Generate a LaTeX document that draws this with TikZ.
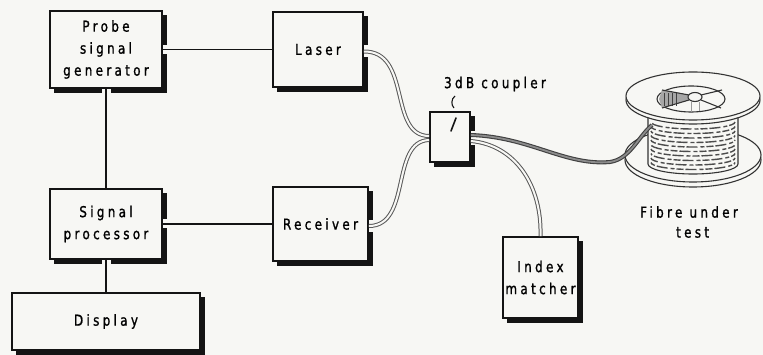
\documentclass[tikz,border=0pt]{standalone}
\usepackage{fontspec}
\setmainfont{DejaVu Sans}[FakeStretch=0.8, LetterSpace=22, FakeBold=1.2]
\usetikzlibrary{calc}
\definecolor{paper}{RGB}{247,247,244}
\definecolor{ink}{RGB}{20,20,20}
\pgfdeclarelayer{bg}
\pgfdeclarelayer{back}
\pgfdeclarelayer{mid}
\pgfsetlayers{bg,back,mid,main}

\begin{document}
\begin{tikzpicture}[x=1pt,y=-1pt,
  blk/.style={draw=ink, line width=1.7pt, fill=paper, rectangle, inner sep=0pt,
    align=center, font=\fontsize{15}{22}\selectfont},
  wire/.style={draw=ink, line width=1.6pt},
  halo/.style={draw=paper, line width=9pt},
  fibre/.style={draw=black!65, line width=1pt, double=paper, double distance=2pt},
  darkfibre/.style={draw=black!75, line width=1.1pt, double=black!45, double distance=1.8pt},
  spool/.style={draw=black!80, line width=1.1pt},
  lbl/.style={font=\fontsize{15}{20}\selectfont, inner sep=0pt, align=left}
]
\useasboundingbox (0,0) rectangle (763,355);
\begin{pgfonlayer}{bg}
  \fill[paper] (0,0) rectangle (763,355);
\end{pgfonlayer}

% ---- blocks ----
\node[blk, minimum width=112pt, minimum height=77pt] (psg) at (106,49.5) {Probe\\signal\\generator};
\node[blk, minimum width=90pt, minimum height=75pt] (laser) at (318,49.5) {Laser};
\node[blk, minimum width=112pt, minimum height=70pt] (sp) at (106,224) {Signal\\processor};
\node[blk, minimum width=95pt, minimum height=74pt] (rx) at (320.5,224) {Receiver};
\node[blk, minimum width=188pt, minimum height=57pt] (disp) at (106,321.5) {Display};
\node[blk, minimum width=40pt, minimum height=50pt] (coupler) at (450,137) {};
\node[blk, minimum width=75pt, minimum height=81pt] (idx) at (540.5,277.5) {Index\\matcher};

% ---- labels ----
\node[lbl] (cplabel) at (495,84) {3dB coupler};
\node[lbl] (fibrelabel) at (689,222) {Fibre under\\\hspace*{2.4em}test};

% ---- drop shadows ----
\begin{pgfonlayer}{back}
  \foreach \n in {psg,laser,sp,rx,disp,coupler,idx}
    \fill[ink] ($(\n.north west)+(4.5,4.5)$) rectangle ($(\n.south east)+(4.5,4.5)$);
\end{pgfonlayer}

% ---- electrical connections ----
\begin{pgfonlayer}{mid}
  \draw[halo] (psg) -- (laser);
  \draw[halo] (psg) -- (sp);
  \draw[halo] (sp) -- (rx);
  \draw[halo] (sp) -- (disp);
\end{pgfonlayer}
\draw[wire] (psg.east) -- (laser.west);
\draw[wire] (psg.south) -- (sp.north);
\draw[wire] (sp.east) -- (rx.west);
\draw[wire] (sp.south) -- (disp.north);

% ---- spool of fibre ----
\coordinate (spin) at (652,125);
% lower flange
\filldraw[spool, fill=paper] (693,160) ellipse [x radius=68, y radius=27];
\filldraw[spool, fill=paper] (693,155) ellipse [x radius=68, y radius=27];
% drum with windings
\filldraw[spool, fill=paper] (648,112) -- (648,164)
  arc[start angle=180, end angle=0, x radius=45, y radius=10] -- (738,112) -- cycle;
\foreach \yy [count=\i] in {122,126.5,131,135.5,140,144.5,149,153.5,158,162.5} {
  \pgfmathsetmacro{\ph}{mod(\i*7,17)}
  \draw[black!70, line width=1.4pt, dash pattern=on 7pt off 2pt on 11pt off 3pt on 4pt off 2pt,
        dash phase=\ph pt]
    (651,\yy) arc[start angle=180, end angle=0, x radius=42, y radius=7];
}

% ---- optical fibres ----
\begin{pgfonlayer}{mid}
  \draw[draw=paper, line width=12pt] ([yshift=-2pt]laser.east) -- +(6,0);
  \draw[draw=paper, line width=12pt] ([yshift=-2pt]rx.east) -- +(6,0);
  \draw[draw=paper, line width=14pt] ([yshift=-1pt]coupler.east) -- +(7,0);
\end{pgfonlayer}
\draw[fibre] ([yshift=-2pt]laser.east) .. controls (412,51) and (388,136) .. ([yshift=1pt]coupler.west);
\draw[fibre] ([yshift=-2pt]rx.east) .. controls (412,226) and (390,141) .. ([yshift=-3pt]coupler.west);
\draw[fibre] ([yshift=-4pt]coupler.east) .. controls (515,145) and (542,185) .. (idx.north);
\draw[darkfibre] ([yshift=2pt]coupler.east) .. controls (530,137) and (565,166) .. (610,162)
  .. controls (630,159) and (638,137) .. (spin);

% upper flange
\filldraw[spool, fill=paper] (693,100) ellipse [x radius=67, y radius=24];
\filldraw[spool, fill=paper] (693,96) ellipse [x radius=67, y radius=24];
% hub opening with spokes
\draw[spool] (691,99) ellipse [x radius=34, y radius=13];
\fill[black!35] (689,95) -- (662,90) -- (659,99) -- (662,108) -- (689,100) -- cycle;
\foreach \xx in {664,668,672,676}
  \draw[black!75, line width=0.8pt] (\xx,93) -- (\xx,106);
\draw[black!40, line width=0.8pt] (691,102) -- (691,112);
\draw[black!40, line width=0.8pt] (699,102) -- (699,111);
\draw[spool] (689,95) -- (662,90);
\draw[spool] (689,100) -- (662,108);
\draw[spool] (701,95) -- (722,90);
\draw[spool] (701,100) -- (721,108);
\filldraw[spool, fill=paper] (695,97) ellipse [x radius=7, y radius=4.5];

% ---- coupler marks ----
\draw[ink, line width=1.1pt] (455,96) .. controls (451,99) and (451,105) .. (454,108);
\draw[ink, line width=1.6pt, line cap=round] (456,118) -- (451,131);
\end{tikzpicture}
\end{document}
